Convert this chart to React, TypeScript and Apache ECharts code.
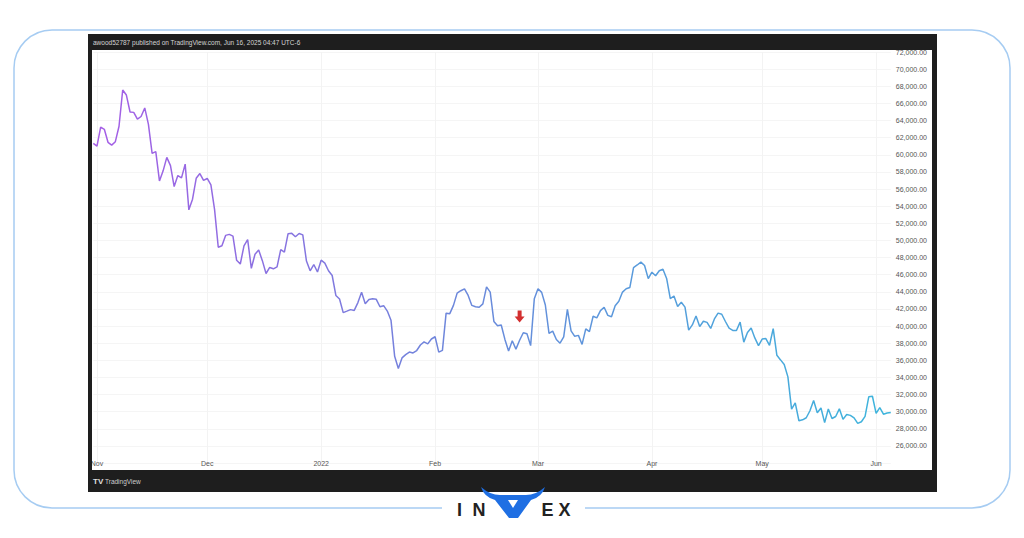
import React, { useEffect, useRef } from "react";
import * as echarts from "echarts";

// ---- Data (daily closes) ----
const oct = [61318];
const nov = [61004, 63226, 62970, 61452, 61125, 61527, 63326, 67566, 66971, 64995, 64949, 64155, 64469, 65466, 63557, 60161, 60368, 56942, 58119, 59697, 58730, 56289, 57569, 57300, 58900, 53569, 54815, 57248, 57806, 57005];
const dec = [57229, 56477, 53598, 49201, 49368, 50582, 50700, 50504, 47672, 47243, 49362, 50098, 46737, 48379, 48864, 47632, 46131, 46834, 46681, 46915, 48926, 48628, 50784, 50822, 50429, 50809, 50640, 47588, 46444, 47178, 46306];
const jan = [47686, 47345, 46458, 45897, 43569, 43161, 41558, 41734, 41912, 41822, 42736, 43949, 42591, 43100, 43177, 43114, 42250, 42375, 41744, 40680, 36457, 35030, 36276, 36654, 36954, 36852, 37138, 37784, 38138, 37917, 38483];
const feb = [38743, 36952, 37154, 41500, 41441, 42412, 43840, 44118, 44338, 43565, 42407, 42244, 42197, 42586, 44575, 43961, 40538, 40030, 40122, 38431, 37075, 38286, 37296, 38332, 39214, 39105, 37710, 43193];
const mar = [44354, 43924, 42451, 39137, 39400, 38420, 37988, 38730, 41942, 39437, 38795, 38904, 37849, 39666, 39339, 41143, 40951, 41801, 42190, 41247, 41077, 42358, 42892, 43960, 44348, 44500, 46820, 47128, 47465, 47062, 45538];
const apr = [46281, 45868, 46453, 46622, 45555, 43206, 43503, 42287, 42782, 42207, 39521, 40127, 41166, 39935, 40553, 40424, 39716, 40826, 41503, 41374, 40527, 39741, 39486, 39470, 40458, 38117, 39241, 39773, 38609, 37714];
const may = [38469, 38529, 37750, 39698, 36575, 36040, 35501, 34059, 30296, 31022, 28936, 29047, 29283, 30101, 31305, 29862, 30425, 28720, 30314, 29200, 29432, 30323, 29098, 29655, 29562, 29267, 28628, 28814, 29445, 31726, 31792];
const jun = [29799, 30467, 29704, 29833, 29907];

const startDate = [2021, 9, 31]; // Oct 31, 2021
const monthLabels = ["2022", "Feb", "Mar", "Apr", "May", "Jun", "Jul", "Aug", "Sep", "Oct", "Nov", "Dec"];
const yMin = 24000;
const yMax = 72000;
const yStep = 2000;
const arrowDate = "2022-02-24";
const arrowValue = 41100;

const headerText = "awood52787 published on TradingView.com, Jun 16, 2025 04:47 UTC-6";

const values = [...oct, ...nov, ...dec, ...jan, ...feb, ...mar, ...apr, ...may, ...jun];
const pad = (n: number) => (n < 10 ? "0" + n : "" + n);
const dates = values.map((_, i) => {
  const d = new Date(Date.UTC(startDate[0], startDate[1], startDate[2] + i));
  return `${d.getUTCFullYear()}-${pad(d.getUTCMonth() + 1)}-${pad(d.getUTCDate())}`;
});

const vPath =
  "M0,2 Q9,10 19,10 L45,10 Q55,10 64,2 Q61,12 50,15 L37,33 L28,33 L14,15 Q3,12 0,2 Z M27,15 L32,23 L37,15 Z";
echarts.graphic.registerShape("invexV", echarts.graphic.extendPath(vPath, {}));

const FONT = "'Liberation Sans', 'DejaVu Sans', sans-serif";

const isFirst = (_i: number, v: string) => v.endsWith("-01");

export default function App() {
  const ref = useRef<HTMLDivElement>(null);
  useEffect(() => {
    if (!ref.current) return;
    const chart = echarts.init(ref.current, undefined, { renderer: "svg" });
    const option: any = {
      animation: false,
      backgroundColor: "#ffffff",
      grid: { left: 93.3, right: 1024 - 890.8, top: 52, height: 411 },
      xAxis: {
        type: "category",
        data: dates,
        boundaryGap: false,
        axisLine: { show: false },
        axisTick: { show: false },
        axisLabel: {
          interval: isFirst,
          margin: -3,
          color: "#555",
          fontSize: 7,
          fontFamily: FONT,
          formatter: (v: string) => monthLabels[parseInt(v.slice(5, 7), 10) - 1],
        },
        splitLine: { show: true, interval: isFirst, lineStyle: { color: "#f3f3f3", width: 1 } },
      },
      yAxis: {
        type: "value",
        position: "right",
        min: yMin,
        max: yMax,
        interval: yStep,
        axisLine: { show: false },
        axisTick: { show: false },
        axisLabel: {
          margin: 5,
          color: "#555",
          fontSize: 7,
          fontFamily: FONT,
          formatter: (v: number) =>
            v === yMin ? "" : v.toLocaleString("en-US", { minimumFractionDigits: 2, maximumFractionDigits: 2 }),
        },
        splitLine: { show: true, lineStyle: { color: "#f5f5f5", width: 1 } },
      },
      series: [
        {
          type: "line",
          data: values,
          symbol: "none",
          showSymbol: false,
          lineStyle: {
            width: 1.5,
            color: new echarts.graphic.LinearGradient(0, 0, 1, 0, [
              { offset: 0, color: "#a65ee6" },
              { offset: 0.45, color: "#6d87db" },
              { offset: 1, color: "#3db5dc" },
            ]),
          },
          markPoint: {
            silent: true,
            data: [
              {
                coord: [arrowDate, arrowValue],
                symbol: "path://M3,0L7,0L7,5L10,5L5,10L0,5L3,5Z",
                symbolSize: [10, 12],
                itemStyle: { color: "#d32f2f" },
                label: { show: false },
              },
            ],
          },
        },
      ],
      graphic: [
        {
          type: "rect",
          z: 0,
          shape: { x: 14, y: 30, width: 996, height: 478, r: 38 },
          style: { fill: "none", stroke: "#a6ccf2", lineWidth: 1.5 },
        },
        { type: "rect", z: 50, shape: { x: 442, y: 500, width: 143, height: 16 }, style: { fill: "#ffffff" } },
        { type: "rect", z: 100, shape: { x: 88, y: 34, width: 849, height: 16 }, style: { fill: "#1e1e1e" } },
        { type: "rect", z: 100, shape: { x: 88, y: 470, width: 849, height: 22 }, style: { fill: "#1e1e1e" } },
        { type: "rect", z: 100, shape: { x: 88, y: 34, width: 4, height: 458 }, style: { fill: "#1e1e1e" } },
        { type: "rect", z: 100, shape: { x: 932, y: 34, width: 5, height: 458 }, style: { fill: "#1e1e1e" } },
        {
          type: "text",
          z: 101,
          x: 93,
          y: 42,
          style: { text: headerText, fill: "#d4d4d4", fontSize: 6.5, fontFamily: FONT, verticalAlign: "middle" },
        },
        {
          type: "text",
          z: 101,
          x: 93,
          y: 481,
          style: { text: "TV", fill: "#e0e0e0", fontSize: 8, fontWeight: "bold", fontFamily: FONT, verticalAlign: "middle" },
        },
        {
          type: "text",
          z: 101,
          x: 105,
          y: 481,
          style: { text: "TradingView", fill: "#cfcfcf", fontSize: 6.5, fontFamily: FONT, verticalAlign: "middle" },
        },
        ...[
          ["I", 459.5],
          ["N", 479],
          ["E", 547.5],
          ["X", 564.5],
        ].map(([t, x]) => ({
          type: "text",
          z: 102,
          x: x as number,
          y: 510,
          style: {
            text: t as string,
            fill: "#222222",
            fontSize: 18,
            fontWeight: "bold",
            fontFamily: FONT,
            align: "center",
            verticalAlign: "middle",
          },
        })),
        {
          type: "invexV",
          z: 103,
          x: 481,
          y: 485,
          scaleX: 1,
          scaleY: 1,
          style: { fill: "#1f6fe3" },
        },
      ],
    };
    chart.setOption(option);
    return () => chart.dispose();
  }, []);
  return <div ref={ref} style={{ position: "absolute", left: 0, top: 0, width: 1024, height: 538 }} />;
}
